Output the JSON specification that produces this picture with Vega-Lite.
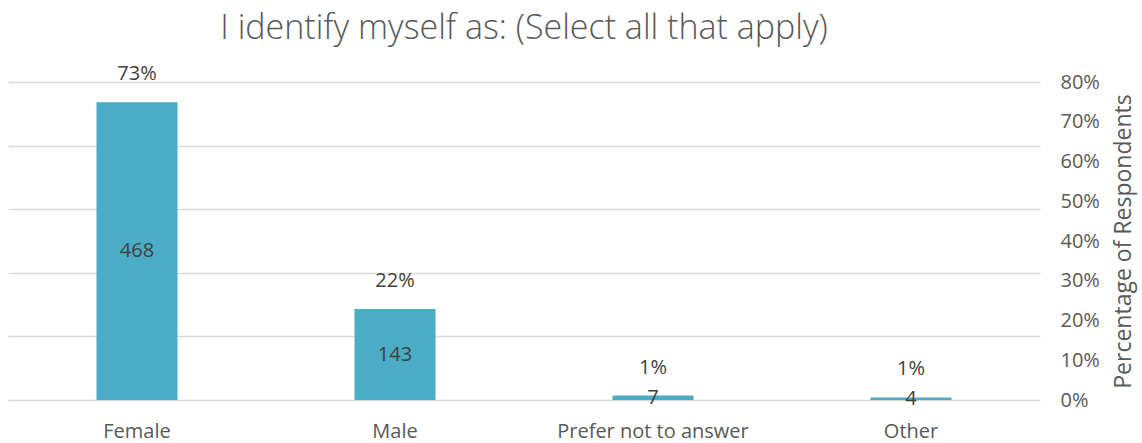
{
  "$schema": "https://vega.github.io/schema/vega-lite/v6.json",
  "autosize": "none",
  "width": 1032,
  "height": 318,
  "padding": {"left": 8, "top": 82, "right": 102, "bottom": 43},
  "background": "white",
  "config": {"view": {"stroke": null}, "font": "Open Sans"},
  "title": {
    "text": "I identify myself as: (Select all that apply)",
    "fontSize": 34,
    "font": "Open Sans",
    "fontWeight": 300,
    "color": "#595959",
    "anchor": "middle",
    "offset": 18
  },
  "data": {
    "values": [
      {"category": "Female", "count": 468, "pct": 0.73},
      {"category": "Male", "count": 143, "pct": 0.22},
      {"category": "Prefer not to answer", "count": 7, "pct": 0.01},
      {"category": "Other", "count": 4, "pct": 0.01}
    ]
  },
  "encoding": {
    "x": {
      "field": "category",
      "type": "nominal",
      "sort": null,
      "scale": {"paddingInner": 0.686, "paddingOuter": 0.343},
      "axis": {
        "title": null,
        "labelAngle": 0,
        "labelFontSize": 20,
        "labelLimit": 400,
        "labelColor": "#595959",
        "labelPadding": 21,
        "ticks": false,
        "domain": false
      }
    }
  },
  "layer": [
    {
      "layer": [
        {
          "mark": {"type": "bar", "color": "#4BACC6"},
          "encoding": {
            "y": {
              "field": "count",
              "type": "quantitative",
              "scale": {"domain": [0, 500]},
              "axis": {
                "title": null,
                "labels": false,
                "ticks": false,
                "domain": false,
                "grid": true,
                "gridColor": "#D9D9D9",
                "gridWidth": 1.5,
                "values": [0, 100, 200, 300, 400, 500]
              }
            }
          }
        },
        {
          "transform": [{"calculate": "datum.count / 2", "as": "mid"}],
          "mark": {"type": "text", "fontSize": 20, "color": "#404040", "baseline": "middle"},
          "encoding": {
            "y": {"field": "mid", "type": "quantitative"},
            "text": {"field": "count", "type": "quantitative"}
          }
        },
        {
          "mark": {"type": "text", "fontSize": 20, "color": "#404040", "baseline": "middle", "dy": -28},
          "encoding": {
            "y": {"field": "count", "type": "quantitative"},
            "text": {"field": "pct", "type": "quantitative", "format": ".0%"}
          }
        }
      ]
    },
    {
      "mark": {"type": "point", "opacity": 0},
      "encoding": {
        "y": {
          "field": "pct",
          "type": "quantitative",
          "scale": {"domain": [0, 0.8]},
          "axis": {
            "orient": "right",
            "format": ".0%",
            "values": [0, 0.1, 0.2, 0.3, 0.4, 0.5, 0.6, 0.7, 0.8],
            "title": "Percentage of Respondents",
            "titleAngle": 270,
            "titleBaseline": "top",
            "titleFontSize": 23,
            "titleFontWeight": "normal",
            "titleColor": "#595959",
            "titlePadding": 13,
            "labelFontSize": 20,
            "labelColor": "#595959",
            "labelPadding": 20,
            "ticks": false,
            "domain": false,
            "grid": false
          }
        }
      }
    }
  ],
  "resolve": {"scale": {"y": "independent"}}
}
